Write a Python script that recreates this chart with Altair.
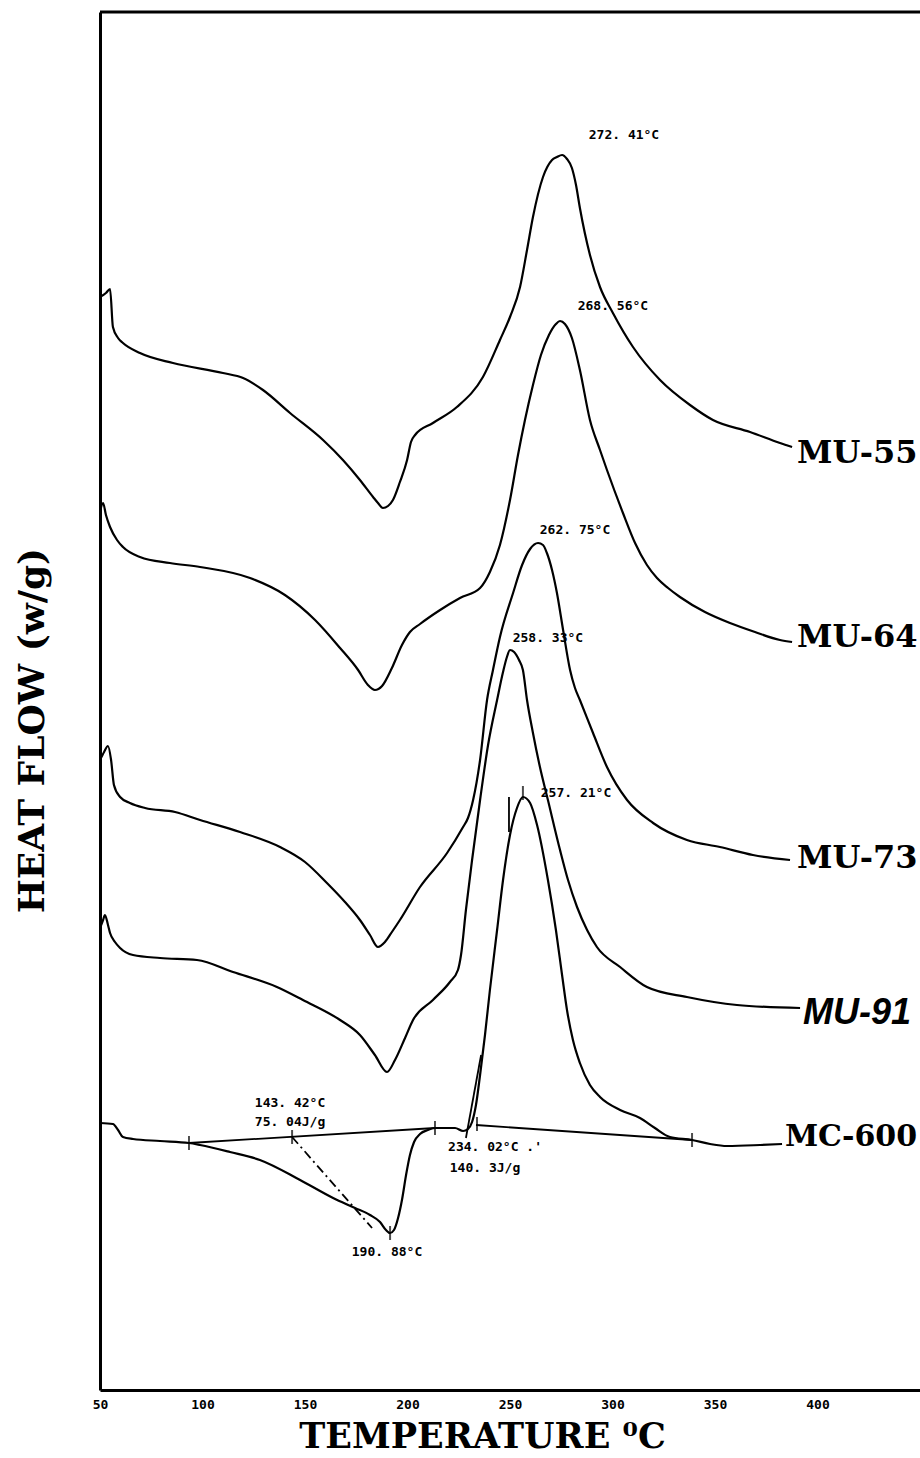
import altair as alt
import pandas as pd

# ---------------- curve data (temperature in °C, heat flow in arbitrary units) -------------
mu55_t = [50.0, 52.9, 54.9, 56.3, 58.8, 61.2, 69.5, 85.6, 110.0, 119.8, 129.5, 142.7, 158.8, 168.5,
          176.8, 183.2, 185.6, 188.0, 190.5, 192.9, 196.3, 199.8, 201.7, 203.7, 212.4, 224.1, 236.8,
          245.1, 250.0, 254.9, 258.3, 261.2, 266.1, 270.5, 272.9, 275.4, 277.8, 280.2, 282.2, 284.1,
          289.0, 293.9, 300.2, 310.0, 323.2, 337.8, 349.0, 367.1, 381.7, 387.6]
mu55_h = [1093, 1097, 1101, 1063, 1052, 1047, 1037, 1027, 1017, 1012, 1000, 977, 950, 930,
          910, 893, 887, 882, 884, 890, 908, 930, 948, 955, 967, 983, 1013,
          1050, 1073, 1103, 1140, 1173, 1213, 1230, 1233, 1235, 1231, 1222, 1205, 1182,
          1135, 1103, 1077, 1043, 1010, 985, 970, 958, 947, 943]

mu64_t = [50.0, 51.5, 52.9, 54.9, 58.3, 61.2, 69.5, 84.1, 98.8, 123.2, 140.2, 154.9, 167.1, 175.9,
          180.7, 184.1, 187.6, 192.4, 197.3, 201.2, 206.1, 215.9, 225.6, 235.4, 240.2, 245.1, 250.0,
          253.9, 257.3, 261.2, 265.1, 269.0, 272.4, 274.4, 276.8, 280.2, 284.1, 289.0, 293.9,
          297.3, 305.1, 311.0, 316.8, 321.7, 327.1, 332.9, 345.1, 357.3, 369.5, 381.7, 387.6]
mu64_h = [878, 887, 875, 863, 850, 843, 833, 827, 823, 812, 795, 770, 742, 720,
          705, 700, 704, 722, 745, 758, 766, 780, 792, 802, 818, 845, 890,
          935, 970, 1005, 1035, 1055, 1066, 1069, 1066, 1052, 1020, 970, 940,
          920, 877, 847, 825, 812, 802, 793, 778, 767, 758, 750, 748]

mu73_t = [50.0, 52.0, 53.9, 55.4, 56.8, 59.8, 64.6, 72.0, 86.6, 98.8, 118.3, 137.8, 150.0, 160.7,
          169.5, 176.8, 181.7, 185.6, 189.0, 192.4, 196.3, 206.1, 219.3, 227.1, 229.5, 232.0, 235.4,
          238.8, 241.7, 245.1, 251.5, 255.9, 259.8, 263.7, 266.1, 268.0, 270.5, 272.9, 275.9, 279.3,
          281.7, 284.1, 290.5, 297.3, 307.1, 319.8, 336.3, 352.4, 368.5, 386.6]
mu73_h = [630, 638, 644, 630, 605, 593, 587, 582, 578, 570, 558, 543, 528, 507,
          488, 470, 455, 443, 448, 458, 470, 503, 537, 563, 572, 590, 630,
          690, 720, 753, 797, 825, 841, 847, 845, 837, 820, 797, 760, 720,
          702, 690, 657, 623, 590, 567, 550, 543, 535, 530]

mu91_t = [50.0, 51.5, 52.4, 53.9, 54.9, 57.3, 59.8, 66.1, 79.3, 97.3, 114.9, 136.3, 149.0, 167.1,
          176.8, 184.1, 190.0, 193.9, 198.8, 202.7, 212.4, 220.7, 224.6, 226.1, 228.5, 231.5, 235.4,
          239.3, 243.7, 246.6, 248.5, 250.0, 252.0, 254.4, 256.3, 258.3, 261.2, 264.6, 268.5, 274.4,
          278.3, 282.7, 287.6, 292.4, 303.7, 316.8, 336.3, 360.7, 391.5]
mu91_h = [462, 470, 475, 465, 457, 448, 442, 435, 432, 430, 418, 403, 390, 370,
          355, 335, 318, 330, 352, 370, 390, 408, 420, 435, 480, 530, 590,
          645, 690, 718, 733, 740, 738, 730, 720, 690, 657, 623, 590, 540,
          510, 483, 460, 443, 423, 403, 393, 385, 382]

mc600_t = [50.0, 56.3, 58.8, 61.2, 66.1, 79.3, 93.4, 98.8, 113.4, 128.0, 147.6, 163.7, 174.4, 181.7,
           186.6, 189.5, 191.5, 193.4, 195.4, 197.3, 199.3, 201.2, 203.2, 206.1, 210.0, 213.4, 223.2,
           227.1, 229.5, 231.5, 233.4, 235.4, 237.8, 240.2, 243.7, 246.6, 250.0, 253.4, 256.3, 259.8,
           263.2, 268.5, 272.4, 275.4, 277.8, 280.7, 284.1, 289.0, 293.9, 303.7, 313.4, 320.7, 328.0,
           338.8, 347.6, 355.9, 372.0, 382.7]
mc600_h = [267, 266, 260, 253, 251, 249, 247, 245, 238, 230, 210, 192, 182, 175,
           168, 160, 157, 160, 172, 190, 215, 235, 248, 256, 260, 262, 262,
           259, 261, 268, 285, 315, 355, 400, 460, 510, 555, 582, 593, 587,
           565, 510, 460, 415, 380, 350, 327, 305, 293, 280, 272, 262, 253,
           250, 246, 244, 245, 246]

# construction lines drawn on the MC-600 trace
seg_names = ["endo_base", "endo_base", "exo_base", "exo_base", "onset", "onset", "peakmark", "peakmark"]
seg_t = [93.4, 213.4, 233.4, 338.8, 228.5, 235.9, 249.5, 249.5]
seg_h = [247, 262, 265, 250, 252, 335, 558, 593]
dash_t = [143.7, 182.7]
dash_h = [253, 162]

# integration-limit tick marks
tick_t = [93.4, 143.7, 213.4, 233.9, 338.8, 191.5, 256.3]
tick_h = [247, 253, 262, 266, 250, 157, 597]

# small printed annotations
ann_text = ["272. 41°C", "268. 56°C", "262. 75°C", "258. 33°C", "257. 21°C",
            "143. 42°C", "75. 04J/g", "234. 02°C .'", "140. 3J/g", "190. 88°C"]
ann_t = [305.6, 300.2, 281.7, 268.5, 282.2, 142.7, 142.7, 242.7, 237.8, 190.0]
ann_h = [1255, 1084, 860, 752, 597, 287, 268, 243, 222, 138]

# sample labels
lab_text = ["MU-55", "MU-64", "MU-73", "MC-600"]
lab_t = [390.0, 390.0, 390.0, 384.1]
lab_h = [937, 753, 532, 253]
lab_size = [32, 32, 32, 30]
lab91_text = ["MU-91"]
lab91_t = [392.9]
lab91_h = [377]

x_ticks = [50, 100, 150, 200, 250, 300, 350, 400]

# ---------------- build tables ----------------
frames = []
for name, t, h in [("MU-55", mu55_t, mu55_h), ("MU-64", mu64_t, mu64_h), ("MU-73", mu73_t, mu73_h),
                   ("MU-91", mu91_t, mu91_h), ("MC-600", mc600_t, mc600_h)]:
    frames.append(pd.DataFrame({"sample": name, "T": t, "H": h, "order": list(range(len(t)))}))
curves = pd.concat(frames, ignore_index=True)
segs = pd.DataFrame({"seg": seg_names, "T": seg_t, "H": seg_h})
dash = pd.DataFrame({"T": dash_t, "H": dash_h})
ticks = pd.DataFrame({"T": tick_t, "H": tick_h})
ann = pd.DataFrame({"label": ann_text, "T": ann_t, "H": ann_h})
labs = pd.DataFrame({"label": lab_text, "T": lab_t, "H": lab_h, "size": lab_size})
labs91 = pd.DataFrame({"label": lab91_text, "T": lab91_t, "H": lab91_h})

x_scale = alt.Scale(domain=[50, 450], nice=False, zero=False)
y_scale = alt.Scale(domain=[0, 1378], nice=False, zero=False)

x_axis = alt.Axis(values=x_ticks, labelFont="DejaVu Sans Mono", labelFontWeight="bold",
                  labelFontSize=13, labelColor="black", labelPadding=8, ticks=False,
                  domainColor="black", domainWidth=3, grid=False, labelFlush=False,
                  title="TEMPERATURE ⁰C", titleFont="DejaVu Serif", titleFontSize=35,
                  titleFontWeight="bold", titleColor="black", titleBaseline="alphabetic",
                  titleY=57, titleX=382, titleAlign="center")
y_axis = alt.Axis(labels=False, ticks=False, grid=False, domainColor="black", domainWidth=3,
                  title="HEAT FLOW (w/g)", titleFont="DejaVu Serif", titleFontSize=36,
                  titleFontWeight="bold", titleColor="black", titleAngle=270,
                  titleX=-68, titleY=718, titleAlign="center", titleBaseline="middle")

X = alt.X("T:Q", scale=x_scale, axis=x_axis)
Y = alt.Y("H:Q", scale=y_scale, axis=y_axis)

lines = alt.Chart(curves).mark_line(color="black", strokeWidth=2.2, interpolate="monotone").encode(
    x=X, y=Y, detail="sample:N", order="order:Q")
seg_layer = alt.Chart(segs).mark_line(color="black", strokeWidth=1.8).encode(
    x=X, y=Y, detail="seg:N")
dash_layer = alt.Chart(dash).mark_line(color="black", strokeWidth=1.8, strokeDash=[9, 4, 2, 4]).encode(
    x=X, y=Y)
tick_layer = alt.Chart(ticks).mark_tick(color="black", orient="vertical", size=14, thickness=2).encode(
    x=X, y=Y)
ann_layer = alt.Chart(ann).mark_text(font="DejaVu Sans Mono", fontWeight="bold", fontSize=13,
                                     color="black", align="center", baseline="middle").encode(
    x=X, y=Y, text="label:N")
lab_layer = alt.Chart(labs).mark_text(font="DejaVu Serif", fontWeight="bold",
                                      color="black", align="left", baseline="middle").encode(
    x=X, y=Y, text="label:N", size=alt.Size("size:Q", scale=None, legend=None))
lab91_layer = alt.Chart(labs91).mark_text(font="Liberation Sans", fontWeight="bold", fontStyle="italic",
                                          fontSize=36, color="black", align="left",
                                          baseline="middle").encode(
    x=X, y=Y, text="label:N")
top_border = alt.Chart(pd.DataFrame({"T": [50]})).mark_rule(color="black", strokeWidth=3).encode(
    x=alt.value(0), x2=alt.value(820), y=alt.value(0))

chart = alt.layer(lines, seg_layer, dash_layer, tick_layer, ann_layer, lab_layer, lab91_layer,
                  top_border).properties(
    width=820, height=1378,
    padding={"left": 100, "top": 12, "right": 0, "bottom": 68},
    autosize=alt.AutoSizeParams(type="none"),
    background="white",
).configure_view(stroke=None)

chart.save("out.html", embed_options={"renderer": "svg", "actions": False})
